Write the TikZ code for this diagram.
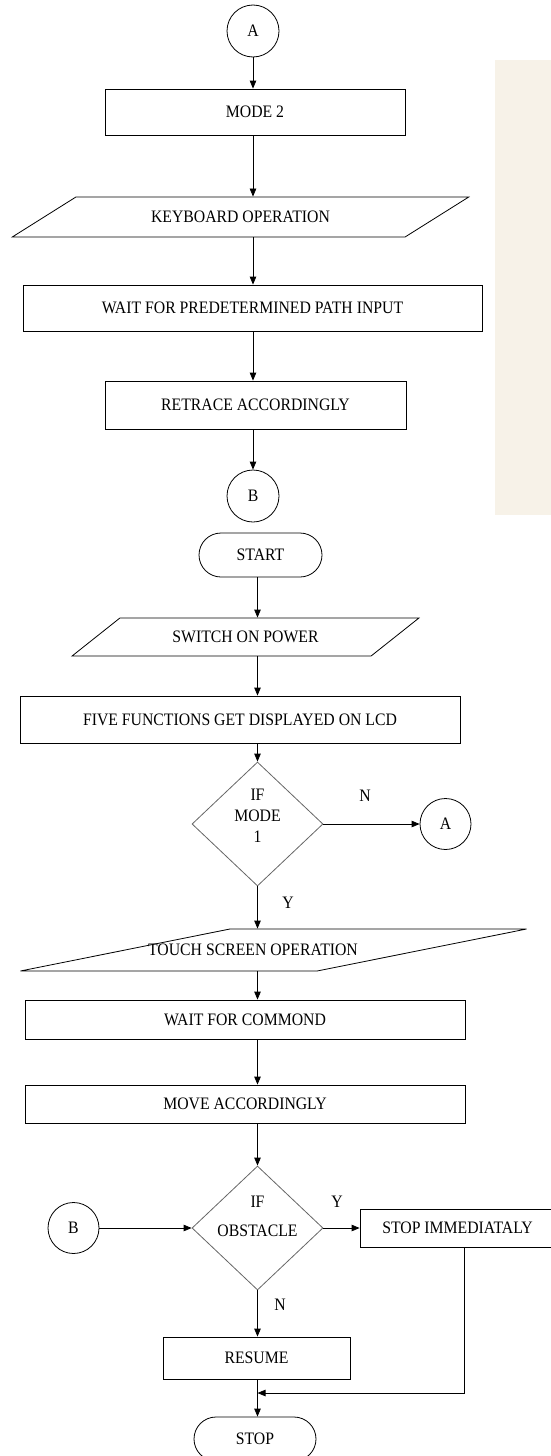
\documentclass[tikz,border=0pt]{standalone}
\usepackage{fontspec}
\setmainfont{Liberation Serif}[FakeStretch=0.9]
\usetikzlibrary{shapes.geometric,shapes.misc,arrows.meta}
\definecolor{paper}{RGB}{247,242,232}

\begin{document}
\begin{tikzpicture}[x=1pt,y=-1pt,font=\fontsize{17.5}{21}\selectfont,
    line width=0.8pt,>={Triangle[length=8pt,width=6.5pt]}]
      \useasboundingbox (0,0) rectangle (551,1456);
      \fill[paper] (495,60) rectangle (551,515);
      \begin{scope}[every node/.style={draw,inner sep=2pt},
          box/.style={rectangle},
          io/.style={trapezium,trapezium stretches},
          term/.style={rounded rectangle},
          decision/.style={diamond,draw=black!60,minimum width=131,minimum height=124}]
        % mode 2 part
        \node[circle,minimum size=52] (a1) at (253,31) {A};
        \node[box,minimum width=300,minimum height=46] (mode2) at (255,112) {MODE 2};
        \node[io,trapezium left angle=24,trapezium right angle=156,
          minimum width=457,minimum height=40] (keyb) at (240.5,217) {KEYBOARD OPERATION};
        \node[box,minimum width=459,minimum height=46] (waitpath) at (252.5,308) {WAIT FOR PREDETERMINED PATH INPUT};
        \node[box,minimum width=301,minimum height=48] (retrace) at (255.5,405) {RETRACE ACCORDINGLY};
        \node[circle,minimum size=52] (b1) at (253,496) {B};
        % main part
        \node[term,minimum width=127,minimum height=44] (start) at (260.5,555) {START};
        \node[io,trapezium left angle=29,trapezium right angle=151,
          minimum width=347,minimum height=38] (switch) at (245.5,637) {SWITCH ON POWER};
        \node[box,minimum width=440,minimum height=47] (five) at (240,719.5) {FIVE FUNCTIONS GET DISPLAYED ON LCD};
        \node[decision] (ifmode) at (257.5,824) {};
        \node[circle,minimum size=51] (a2) at (445.5,824) {A};
        \node[io,trapezium left angle=22.6,trapezium right angle=157.4,
          minimum width=507,minimum height=42] (touch) at (273.5,950) {};
        \node[box,minimum width=440,minimum height=39] (waitcmd) at (245,1019.5) {WAIT FOR COMMOND};
        \node[box,minimum width=440,minimum height=38] (move) at (245,1104) {MOVE ACCORDINGLY};
        \node[decision] (ifobs) at (257.5,1228) {};
        \node[circle,minimum size=51] (b2) at (73.5,1228) {B};
        \node[box,minimum width=195,minimum height=38] (stopim) at (457.5,1228) {STOP IMMEDIATALY};
        \node[box,minimum width=187,minimum height=42] (resume) at (256.5,1358) {RESUME};
        \node[term,minimum width=126,minimum height=44] (stop) at (255,1439) {STOP};
      \end{scope}
      \begin{scope}[every node/.style={align=center,inner sep=0pt}]
        \node (ifmodetxt) at (257.5,816) {IF\\MODE\\1};
        \node (touchtxt) at (253,950) {TOUCH SCREEN OPERATION};
        \node (ifobstxt) at (257.5,1216) {IF\\[8pt]OBSTACLE};
        \node (n1) at (365,796) {N};
        \node (y1) at (288,903) {Y};
        \node (y2) at (337,1202) {Y};
        \node (n2) at (280,1305) {N};
      \end{scope}
      \coordinate (jn) at (464.5,1393);
      \begin{scope}[every path/.style={->}]
        \draw (a1.south) -- (a1 |- mode2.north);
        \draw (a1 |- mode2.south) -- (a1 |- keyb.north);
        \draw (a1 |- keyb.south) -- (a1 |- waitpath.north);
        \draw (a1 |- waitpath.south) -- (a1 |- retrace.north);
        \draw (a1 |- retrace.south) -- (b1.north);
        \draw (ifmode |- start.south) -- (ifmode |- switch.north);
        \draw (ifmode |- switch.south) -- (ifmode |- five.north);
        \draw (ifmode |- five.south) -- (ifmode.north);
        \draw (ifmode.east) -- (a2.west);
        \draw (ifmode.south) -- (ifmode |- touch.north);
        \draw (ifmode |- touch.south) -- (ifmode |- waitcmd.north);
        \draw (ifmode |- waitcmd.south) -- (ifmode |- move.north);
        \draw (ifmode |- move.south) -- (ifobs.north);
        \draw (b2.east) -- (ifobs.west);
        \draw (ifobs.east) -- (stopim.west);
        \draw (ifobs.south) -- (ifobs |- resume.north);
        \draw (ifobs |- resume.south) -- (ifobs |- stop.north);
        \draw (stopim.south -| jn) -- (jn) -- (jn -| ifobs);
      \end{scope}
    \end{tikzpicture}
\end{document}
